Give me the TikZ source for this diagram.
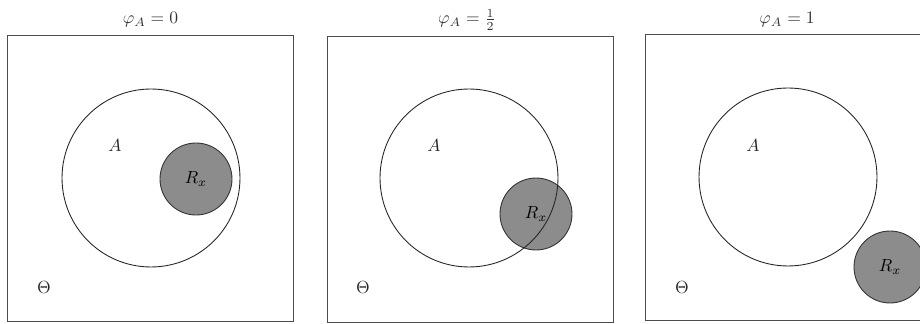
\documentclass[tikz,border=0pt]{standalone}
\usetikzlibrary{positioning}
\tikzset{
  okvir/.style  = {rectangle, draw=black!70, line width=0.5pt, inner sep=0pt,
                   minimum width=5.72cm, minimum height=5.72cm},
  skup/.style   = {circle, draw=black!85, line width=0.5pt, inner sep=0pt,
                   minimum size=3.56cm},
  regija/.style = {circle, draw=black!80, line width=0.5pt, fill=black!45,
                   inner sep=0pt, minimum size=1.44cm},
  naslov/.style = {anchor=base, text=black!80},
  oznaka/.style = {text=black!85},
}
\begin{document}
\begin{tikzpicture}[x=0.02cm, y=-0.02cm]
  \useasboundingbox (0,0) rectangle (920,324);

  % phi_A = 0
  \node[okvir]  (o1) at (150.5,178) {};
  \node[regija] (r1) at (196,179) {$R_x$};
  \node[skup]   (a1) at (151,178) {};
  \node[oznaka] (la1) at (115,145) {$A$};
  \node[oznaka] (t1)  at (44,287) {$\Theta$};
  \node[naslov] (n1)  at (150.5,24) {$\varphi_A = 0$};

  % phi_A = 1/2
  \node[okvir]  (o2) at (470,179) {};
  \node[regija] (r2) at (536,214) {$R_x$};
  \node[skup]   (a2) at (469,178) {};
  \node[oznaka] (la2) at (434,145) {$A$};
  \node[oznaka] (t2)  at (363,287) {$\Theta$};
  \node[naslov] (n2)  at (467,24) {$\varphi_A = \frac{1}{2}$};

  % phi_A = 1
  \node[okvir]  (o3) at (788,177) {};
  \node[regija] (r3) at (890,267) {$R_x$};
  \node[skup]   (a3) at (788,177) {};
  \node[oznaka] (la3) at (753,145) {$A$};
  \node[oznaka] (t3)  at (682,287) {$\Theta$};
  \node[naslov] (n3)  at (787,24) {$\varphi_A = 1$};
\end{tikzpicture}
\end{document}
